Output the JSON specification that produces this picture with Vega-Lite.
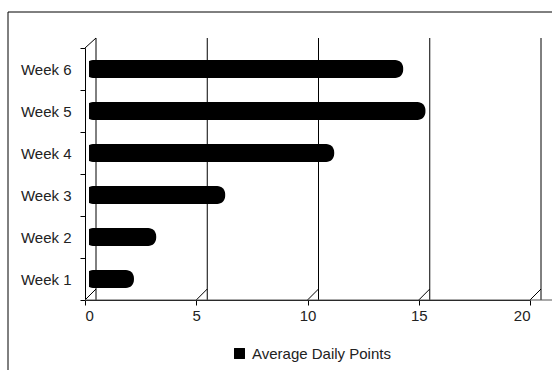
{
  "$schema": "https://vega.github.io/schema/vega-lite/v6.json",
  "autosize": {"type": "none"},
  "width": 445,
  "height": 252,
  "padding": {"left": 85, "top": 48, "right": 22, "bottom": 70},
  "background": "#ffffff",
  "config": {
    "view": {"stroke": null},
    "font": "Liberation Sans",
    "axis": {
      "labelFont": "Liberation Sans",
      "labelFontSize": 15,
      "labelColor": "#222222",
      "domainColor": "#000000",
      "tickColor": "#000000",
      "grid": false,
      "title": null
    }
  },
  "datasets": {
    "weeks": [
      {"week": "Week 1", "points": 2.2},
      {"week": "Week 2", "points": 3.2},
      {"week": "Week 3", "points": 6.3},
      {"week": "Week 4", "points": 11.2},
      {"week": "Week 5", "points": 15.3},
      {"week": "Week 6", "points": 14.3}
    ],
    "grid": [{"g": 0}, {"g": 5}, {"g": 10}, {"g": 15}, {"g": 20}],
    "one": [{"g": 0}]
  },
  "layer": [
    {
      "description": "outer chart frame (left and top edges)",
      "data": {"name": "one"},
      "mark": {"type": "rule", "color": "#000000", "strokeWidth": 1, "xOffset": -77, "x2Offset": -77, "yOffset": -36, "y2Offset": 80},
      "encoding": {"x": {"value": 0}, "x2": {"value": 0}, "y": {"value": 0}, "y2": {"value": "height"}}
    },
    {
      "data": {"name": "one"},
      "mark": {"type": "rule", "color": "#000000", "strokeWidth": 1, "xOffset": -77, "x2Offset": 40, "yOffset": -36, "y2Offset": -36},
      "encoding": {"x": {"value": 0}, "x2": {"value": "width"}, "y": {"value": 0}, "y2": {"value": 0}}
    },
    {
      "description": "back-wall gridlines",
      "data": {"name": "grid"},
      "mark": {"type": "rule", "color": "#000000", "strokeWidth": 1, "xOffset": 11, "x2Offset": 11, "yOffset": -10, "y2Offset": -11},
      "encoding": {"x": {"field": "g", "type": "quantitative", "scale": {"domain": [0, 20], "nice": false}}}
    },
    {
      "description": "floor diagonals joining front ticks to back gridlines",
      "data": {"name": "grid"},
      "mark": {"type": "rule", "color": "#000000", "strokeWidth": 1, "x2Offset": 11, "y2Offset": -11},
      "encoding": {
        "x": {"field": "g", "type": "quantitative"},
        "x2": {"field": "g"},
        "y": {"value": "height"},
        "y2": {"value": "height"}
      }
    },
    {
      "description": "top-left wall diagonal",
      "data": {"name": "one"},
      "mark": {"type": "rule", "color": "#000000", "strokeWidth": 1, "x2Offset": 11, "y2Offset": -10},
      "encoding": {
        "x": {"field": "g", "type": "quantitative"},
        "x2": {"field": "g"},
        "y": {"value": 0},
        "y2": {"value": 0}
      }
    },
    {
      "description": "floor front edge",
      "data": {"name": "one"},
      "mark": {"type": "rule", "color": "#555555", "strokeWidth": 1, "x2Offset": 30},
      "encoding": {"x": {"value": 0}, "x2": {"value": "width"}, "y": {"value": "height"}, "y2": {"value": "height"}}
    },
    {
      "data": {"name": "weeks"},
      "mark": {"type": "bar", "size": 18, "cornerRadius": 8, "xOffset": 4},
      "encoding": {
        "y": {
          "field": "week",
          "type": "nominal",
          "sort": ["Week 6", "Week 5", "Week 4", "Week 3", "Week 2", "Week 1"],
          "scale": {"paddingInner": 0, "paddingOuter": 0},
          "axis": {"domain": true, "ticks": true, "tickBand": "extent", "tickSize": 5, "labelPadding": 9}
        },
        "x": {
          "field": "points",
          "type": "quantitative",
          "scale": {"domain": [0, 20], "nice": false},
          "axis": {"values": [0, 5, 10, 15, 20], "tickSize": 5, "labelPadding": 3, "domain": true}
        },
        "color": {
          "datum": "Average Daily Points",
          "type": "nominal",
          "scale": {"range": ["#000000"]},
          "legend": {
            "orient": "none",
            "legendX": 147,
            "legendY": 298,
            "title": null,
            "symbolType": "square",
            "symbolSize": 120,
            "symbolStrokeWidth": 0,
            "labelFont": "Liberation Sans",
            "labelFontSize": 15,
            "labelColor": "#222222",
            "labelOffset": 5
          }
        }
      }
    }
  ]
}
